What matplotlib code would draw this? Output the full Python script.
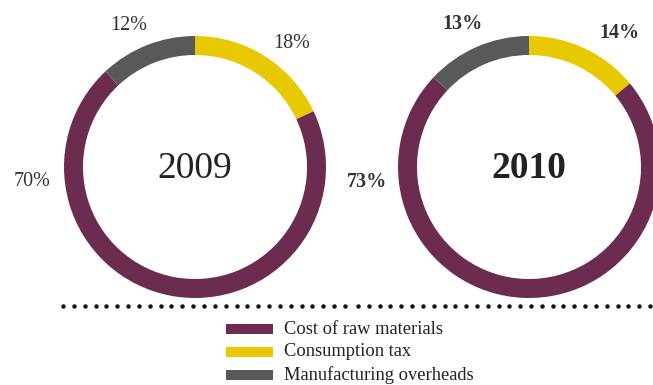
import numpy as np
import matplotlib.pyplot as plt
from matplotlib.patches import Rectangle

# data
categories = ["Cost of raw materials", "Consumption tax", "Manufacturing overheads"]
years = ["2009", "2010"]
share_2009 = [70, 18, 12]
share_2010 = [73, 14, 13]
colors = ["#6b2c50", "#e8c800", "#58595b"]

plt.rcParams['font.family'] = ['Liberation Serif', 'DejaVu Serif']

W, H = 653, 385
fig = plt.figure(figsize=(W / 100, H / 100), dpi=100)
ax = fig.add_axes([0, 0, 1, 1])

def Y(y):
    return H - y

def donut(values, cx, cy, year, bold, label_pos):
    # pie order clockwise from top: tax, raw, overheads
    order = [1, 0, 2]
    ax.pie([values[i] for i in order], colors=[colors[i] for i in order],
           startangle=90, counterclock=False, radius=131, center=(cx, Y(cy)),
           wedgeprops=dict(width=19, linewidth=0), frame=True)
    weight = "bold" if bold else "normal"
    ax.text(cx, Y(cy + 2), year, ha="center", va="center", fontsize=27,
            color="#222222", fontweight=weight)
    for i, (lx, ly) in zip(order, label_pos):
        ax.text(lx, Y(ly), f"{values[i]}%", ha="center", va="center",
                fontsize=14.5, color="#333333", fontweight=weight)

donut(share_2009, 195, 167, years[0], False, [(292, 43), (32, 181), (129, 26)])
donut(share_2010, 529, 167, years[1], True, [(619, 33), (367, 182), (463, 24)])

# dotted separator (two runs with a slightly wider gap between them)
dot = dict(color="#111111", linestyle="none", marker="o", markersize=3.2,
           markeredgewidth=0)
left_dots = np.linspace(63, 345, 27)
right_dots = np.linspace(358, 650, 28)
ax.plot(left_dots, np.full(left_dots.size, Y(306)), **dot)
ax.plot(right_dots, np.full(right_dots.size, Y(306)), **dot)

# legend
for k, (name, c) in enumerate(zip(categories, colors)):
    yy = 329 + 23 * k
    ax.add_patch(Rectangle((226, Y(yy) - 5), 47, 10, color=c, linewidth=0))
    ax.text(284, Y(yy), name, ha="left", va="center", fontsize=13.3,
            color="#222222")

ax.set_xlim(0, W)
ax.set_ylim(0, H)
ax.set_aspect("auto")
ax.axis("off")

fig.savefig("out.png", dpi=100)
